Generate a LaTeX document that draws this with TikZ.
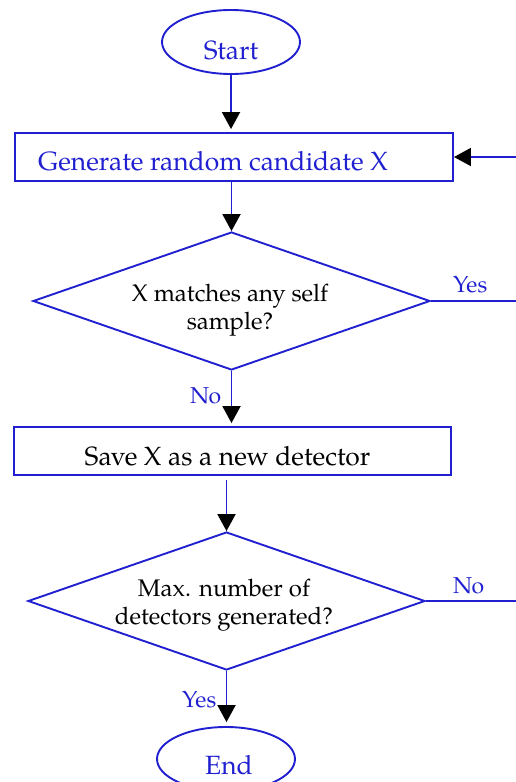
\documentclass[tikz,border=0pt]{standalone}
\usepackage{fontspec}
\setmainfont{texgyrepagella-regular.otf}
\usetikzlibrary{shapes.geometric,arrows.meta}
\definecolor{fblue}{RGB}{32,32,208}
\begin{document}
\begin{tikzpicture}[x=1pt,y=-1pt,
  flow/.style={draw=fblue,line width=1.9pt,-{Triangle[width=18pt,length=17pt,color=black,fill=black]}},
  conn/.style={draw=fblue,line width=1.9pt},
  term/.style={ellipse,draw=fblue,line width=1.9pt,minimum width=138pt,minimum height=64pt,inner sep=0pt},
  proc/.style={rectangle,draw=fblue,line width=1.9pt,inner sep=0pt},
  dec/.style={diamond,draw=fblue,line width=1.9pt,aspect=2.88,inner sep=0pt,minimum width=397pt,minimum height=138pt},
  bigtxt/.style={font=\fontsize{26.4}{31}\selectfont,inner sep=0pt},
  dtxt/.style={font=\fontsize{24}{28}\selectfont,align=center,text=black,inner sep=0pt},
  lbl/.style={font=\fontsize{23}{27}\selectfont,text=fblue,inner sep=0pt,anchor=base west}]
\useasboundingbox (0,0) rectangle (516,782);
\clip (0,0) rectangle (516,782);
% nodes
\node[term] (start) at (231,42) {};
\node[bigtxt,text=fblue,anchor=base] (startt) at (231,59) {Start};
\node[proc,minimum width=438pt,minimum height=48pt] (gen) at (234,157) {};
\node[bigtxt,text=fblue,anchor=base west] (gent) at (38,170) {Generate random candidate X};
\node[dec] (d1) at (231.5,301) {};
\node[dtxt] (d1t) at (230,310.5) {X matches any self\\sample?};
\node[proc,minimum width=437pt,minimum height=48pt] (save) at (232.5,451) {};
\node[bigtxt,anchor=base] (savet) at (227.5,465) {Save X as a new detector};
\node[dec] (d2) at (226.5,601) {};
\node[dtxt] (d2t) at (224,605.5) {Max. number of\\detectors generated?};
\node[term] (end) at (226,759) {};
\node[bigtxt,text=fblue,anchor=base] (endt) at (229,774) {End};
% labels
\node[lbl] (y1) at (453,292) {Yes};
\node[lbl] (n1) at (190,403) {No};
\node[lbl] (n2) at (453,593) {No};
\node[lbl] (y2) at (182,707) {Yes};
% connectors
\coordinate (r1) at (545,301);
\coordinate (r2) at (545,601);
\draw[flow,shorten >=3pt] (start.south) -- (start.south |- gen.north);
\draw[flow] (d1.north |- gen.south) -- (d1.north);
\draw[flow,shorten >=3pt] (d1.south) -- (d1.south |- save.north);
\draw[flow,shorten <=4pt] (d2.north |- save.south) -- (d2.north);
\draw[flow,shorten >=4pt] (d2.south) -- (d2.south |- end.north);
\draw[flow] (d1.east) -- (r1) |- (gen.east);
\draw[conn] (d2.east) -- (r2) -- (r1);
\end{tikzpicture}
\end{document}
